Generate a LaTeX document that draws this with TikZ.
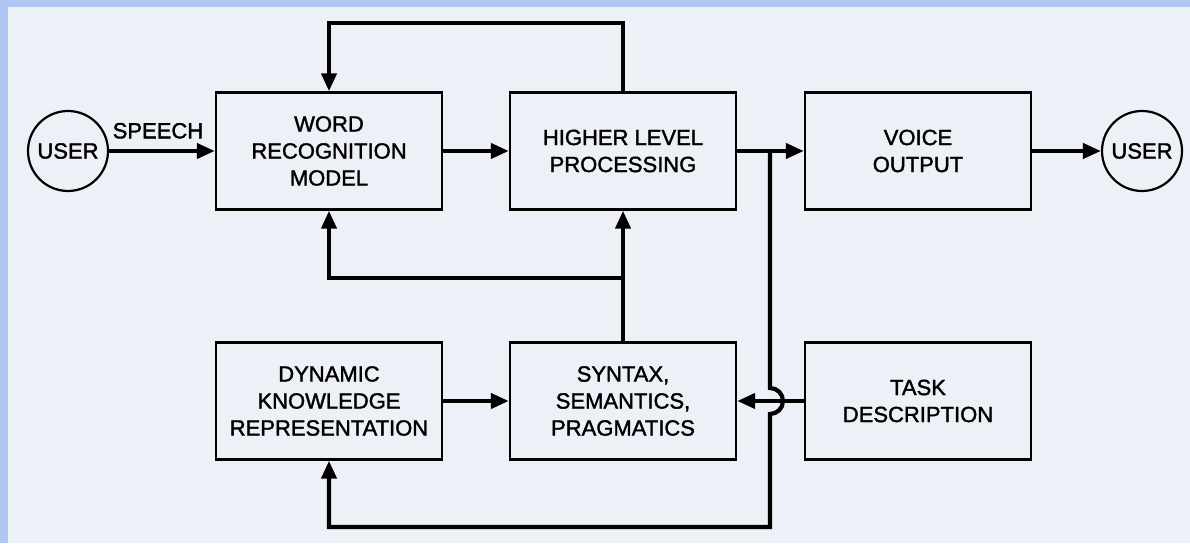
\documentclass[tikz,border=0pt]{standalone}
\usepackage{fontspec}
\setmainfont{Liberation Sans}[BoldFont=Liberation Sans, BoldFeatures={FakeBold=1.6}]
\usetikzlibrary{arrows.meta}
\definecolor{bluebg}{HTML}{AFC6F3}
\definecolor{paper}{HTML}{EDF0F6}
\begin{document}
\begin{tikzpicture}[x=1pt, y=1pt,
    font=\fontsize{22}{27}\selectfont\bfseries,
    box/.style={draw, line width=2.4pt, minimum width=226pt, minimum height=117pt, align=center},
    user/.style={draw, circle, line width=2.2pt, minimum size=80pt, inner sep=0pt},
    wire/.style={line width=4.2pt},
    arr/.style={wire, -{Triangle[length=18pt, width=15pt]}}]
    \useasboundingbox (0,0) rectangle (1190,543);
    \fill[bluebg] (0,0) rectangle (1190,543);
    \fill[paper] (8,0) rectangle (1190,536);

    \node[user] (userin) at (68,392) {USER};
    \node[box] (word) at (329,392) {WORD\\RECOGNITION\\MODEL};
    \node[box] (higher) at (623,392) {HIGHER LEVEL\\PROCESSING};
    \node[box] (voice) at (918,392) {VOICE\\OUTPUT};
    \node[user] (userout) at (1142,392) {USER};
    \node[box] (dkr) at (329,142) {DYNAMIC\\KNOWLEDGE\\REPRESENTATION};
    \node[box] (syntax) at (623,142) {SYNTAX,\\SEMANTICS,\\PRAGMATICS};
    \node[box] (task) at (918,142) {TASK\\DESCRIPTION};

    \draw[arr] (userin) -- node[above=7pt, xshift=-4pt] {SPEECH} (word);
    \draw[arr] (word) -- (higher);
    \draw[arr] (higher) -- (voice);
    \draw[arr] (voice) -- (userout);

    % feedback loops
    \draw[arr] (higher.north) -- (higher.north |- 0,520) -| (word.north);
    \draw[arr] (syntax.north) -- (higher.south);
    \draw[arr] (syntax.north |- 0,265) -| (word.south);
    \draw[arr] (dkr) -- (syntax);
    \draw[arr] (task) -- (syntax);

    \coordinate (jn) at (770,392);
    \draw[arr] (jn) -- (770,155) arc[start angle=90, end angle=-90, radius=13]
        -- (770,16) -| (dkr.south);
\end{tikzpicture}
\end{document}
